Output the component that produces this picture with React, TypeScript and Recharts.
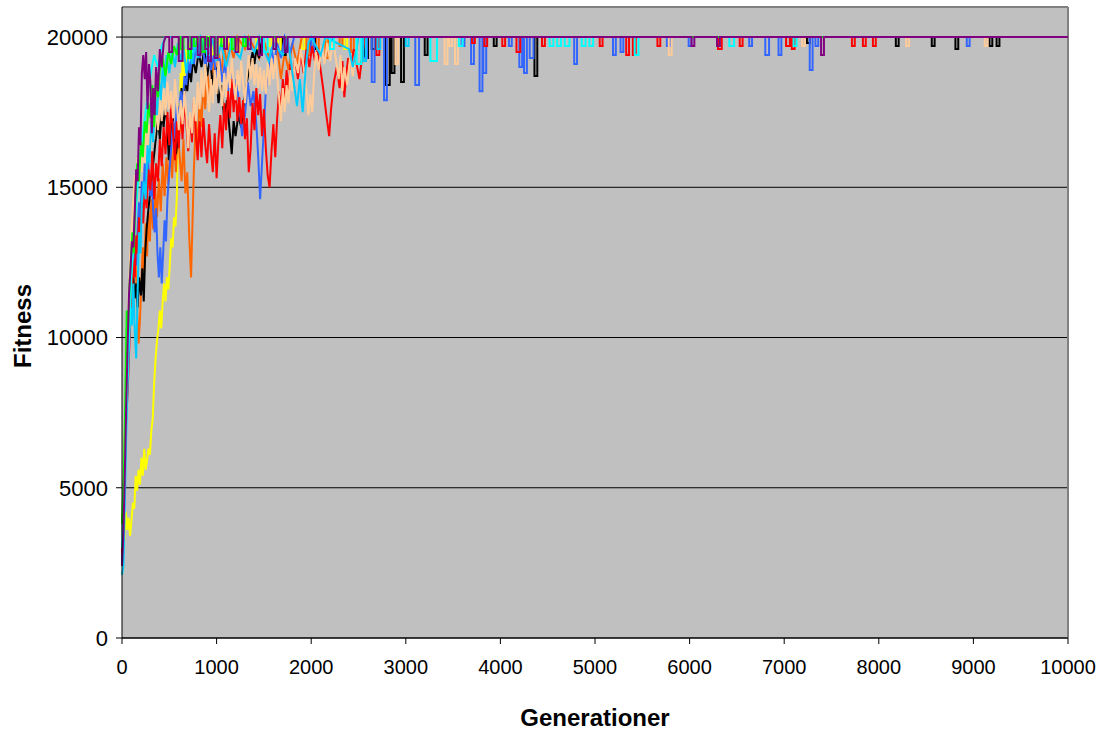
import { LineChart, Line, XAxis, YAxis, CartesianGrid, ReferenceLine } from 'recharts';

const TOP = 20000;
const xTicks = [0, 1000, 2000, 3000, 4000, 5000, 6000, 7000, 8000, 9000, 10000];
const yTicks = [0, 5000, 10000, 15000, 20000];

// [generation, fitness] while climbing, then short drops [start, end, low] once a run sits at 20000
const yellowRun = [[0,2700],[10,3000],[25,3300],[40,4200],[55,3600],[70,4000],[85,3400],[100,3900],[115,4500],[130,4300],[145,5400],[160,4900],[175,5600],[190,5100],[205,6000],[220,5400],[235,6300],[250,5600],[265,5900],[280,6300],[295,6100],[310,6900],[325,7300],[340,8500],[355,9300],[370,9900],[385,10300],[400,10900],[415,10300],[430,11200],[445,11800],[460,11200],[475,12000],[490,11600],[505,12400],[520,13300],[535,13000],[550,14000],[565,13700],[580,14700],[590,16500],[600,17800],[610,16800],[620,18800],[630,17600],[640,19300],[655,18500],[670,19600],[690,19000],[710,19800],[730,19300],[750,20000]];
const yellowDips = [[800,830,19600],[880,910,19300],[950,980,19400],[1040,1070,19700],[1120,1150,19600],[1210,1240,19500],[1300,1330,19700],[1420,1450,19600],[1550,1580,19700],[1650,1680,19500],[1900,1930,19600],[2150,2180,19700],[2350,2380,19600],[6300,6320,19800]];

const orangeRun = [[0,3800],[12,4300],[25,6000],[40,8000],[55,9700],[70,10500],[85,11800],[100,12800],[115,11500],[130,13200],[145,12400],[160,11000],[175,9800],[190,10600],[205,11900],[220,13000],[235,12200],[250,13800],[265,12700],[280,14200],[295,13200],[310,14600],[330,13600],[350,15000],[370,14000],[390,15300],[410,14200],[430,15800],[450,14700],[470,16000],[490,15100],[510,16400],[530,15300],[550,16700],[570,15500],[590,17000],[610,16000],[630,15200],[650,16600],[670,14800],[690,15500],[710,13400],[730,12000],[745,13800],[760,15600],[780,17200],[800,16300],[820,18000],[840,17000],[860,18500],[880,17600],[900,18900],[930,18000],[960,19200],[990,18400],[1020,19500],[1050,18800],[1080,19700],[1110,19100],[1140,19800],[1180,19300],[1220,20000],[1300,19600],[1340,20000],[1450,19300],[1490,20000],[1600,18800],[1640,19700],[1680,18600],[1720,19500],[1760,18900],[1800,19800],[1850,19100],[1900,20000]];
const orangeDips = [[1950,1980,19400],[2050,2080,19600],[2150,2180,19300],[2300,2330,19700],[2420,2450,19500]];

const blackRun = [[0,3000],[15,4500],[30,6500],[45,8300],[60,9400],[75,10300],[90,10900],[105,11600],[120,12000],[135,11300],[150,11800],[165,11000],[180,12000],[200,11400],[215,12300],[230,11200],[245,12800],[260,13600],[280,14300],[300,14900],[320,15500],[340,16100],[360,16700],[380,17300],[400,16600],[420,17500],[440,17000],[460,17800],[480,17000],[495,15900],[510,16500],[530,17600],[550,16800],[570,16100],[590,16600],[610,17400],[630,18300],[650,17600],[670,18700],[690,18200],[710,19000],[730,18500],[750,19300],[780,18800],[810,19500],[840,19000],[870,19600],[900,18700],[930,19300],[960,18400],[990,19000],[1020,17800],[1050,18400],[1080,17300],[1110,17900],[1140,16800],[1160,16100],[1180,17200],[1200,16700],[1230,17400],[1260,17000],[1290,17900],[1320,18500],[1350,19000],[1380,19500],[1400,19100],[1420,19600],[1450,19300],[1480,20000]];
const blackDips = [[1700,1730,19400],[2000,2040,19600],[2560,2600,19300],[2640,2680,19600],[2790,2830,18400],[2850,2880,18800],[2950,2980,18500],[3200,3230,19400],[3930,3960,19700],[4360,4390,18700],[7240,7270,19800],[8180,8210,19700],[8560,8590,19700],[8810,8840,19600],[9170,9200,19700],[9245,9275,19700]];

const blueRun = [[0,2500],[15,4000],[30,6500],[45,8800],[60,10200],[75,11500],[90,12300],[105,13000],[120,12100],[135,13200],[150,12400],[165,13600],[180,14500],[195,14000],[210,15200],[225,14600],[240,15800],[255,15000],[270,16200],[285,15400],[300,14700],[315,15200],[330,14200],[345,13500],[360,14300],[375,12800],[390,12000],[405,13000],[420,11800],[435,12800],[450,13900],[465,13200],[480,14600],[500,15500],[520,16300],[540,17200],[560,16600],[580,17800],[600,17300],[620,18200],[640,17700],[660,18700],[680,18400],[700,19200],[720,18800],[740,19600],[760,19100],[790,19900],[820,19300],[850,19800],[880,19000],[910,19600],[940,18900],[970,19400],[1000,18600],[1030,19300],[1060,18500],[1090,19200],[1120,18200],[1150,18800],[1180,18000],[1210,18600],[1240,17700],[1270,16700],[1300,17400],[1330,18500],[1360,17700],[1390,18200],[1420,17100],[1440,16000],[1460,14600],[1480,15800],[1500,17000],[1520,18200],[1550,19000],[1580,19600],[1610,19100],[1640,19800],[1680,19300],[1720,20000],[1780,19500],[1820,20000]];
const blueDips = [[2000,2030,19500],[2200,2230,19600],[2550,2590,19300],[2640,2670,18500],[2770,2800,17900],[3100,3140,18400],[3590,3620,19700],[3690,3720,19100],[3780,3810,18200],[3820,3850,18800],[4090,4120,19700],[4200,4230,19000],[4250,4280,18800],[4310,4350,19300],[4780,4810,19100],[5190,5220,19400],[5270,5300,19500],[5760,5790,19700],[5990,6020,19700],[6630,6660,19700],[6800,6840,19400],[6940,6970,19400],[7270,7300,18900],[7330,7360,19700],[8930,8960,19700]];

const redRun = [[0,2800],[15,4200],[30,5800],[45,7400],[60,8200],[75,9500],[90,10800],[105,11500],[120,12600],[135,12000],[150,13400],[165,12800],[180,14000],[195,13300],[210,14600],[225,13800],[240,15000],[260,14300],[280,15600],[300,14900],[320,16200],[340,14600],[360,15800],[380,15200],[400,16600],[420,15700],[440,17000],[460,16100],[480,17500],[500,16400],[520,17800],[540,16800],[560,15900],[580,17200],[600,16300],[620,17700],[640,16600],[660,18000],[680,17100],[700,16200],[720,17400],[740,16500],[760,17900],[780,16800],[800,15900],[820,17200],[840,16000],[860,17300],[880,16400],[900,15800],[920,17100],[940,16200],[960,15500],[980,16800],[1000,15300],[1020,16600],[1040,17400],[1060,16300],[1080,17800],[1100,16900],[1120,18200],[1140,17300],[1160,18600],[1180,17500],[1200,18400],[1220,17200],[1240,18000],[1260,17100],[1280,17900],[1300,16600],[1320,17300],[1340,15500],[1360,16300],[1380,17800],[1400,16900],[1420,18300],[1440,17400],[1460,18100],[1480,16700],[1500,17600],[1520,16300],[1540,15400],[1560,15000],[1580,16200],[1600,17100],[1620,16000],[1640,17300],[1660,18200],[1680,17500],[1700,18600],[1720,17800],[1740,18900],[1760,18100],[1780,19100],[1800,18300],[1830,19300],[1860,18600],[1890,19500],[1920,18800],[1950,19600],[1980,19000],[2010,19700],[2040,19200],[2070,19600],[2100,18900],[2130,18200],[2160,17400],[2190,16700],[2210,17600],[2240,18500],[2270,19000],[2300,18300],[2330,19200],[2350,18000],[2370,18700],[2390,19300],[2420,19000],[2450,19600],[2480,19100],[2510,18600],[2540,19400],[2570,20000]];
const redDips = [[2690,2720,19400],[3700,3730,19800],[3830,3860,19700],[4020,4050,19700],[4170,4210,19500],[4440,4470,19700],[5050,5080,19700],[5330,5360,19400],[5400,5430,19400],[5660,5690,19700],[6300,6340,19600],[6530,6560,19700],[7020,7060,19700],[7080,7110,19600],[7716,7746,19700],[7832,7862,19700],[7938,7968,19700]];

const peachRun = [[0,3200],[15,5000],[30,7200],[45,9000],[60,10500],[75,11800],[90,12900],[105,13800],[120,14600],[135,15400],[150,15000],[165,16000],[180,15200],[195,16300],[210,15500],[225,16600],[240,15800],[255,16900],[270,16000],[285,17100],[300,16200],[320,17400],[340,16600],[360,17700],[380,16900],[400,18000],[420,17200],[440,18300],[460,17400],[480,18500],[500,17600],[520,18200],[540,17300],[560,18600],[580,17800],[600,16900],[620,17900],[640,17100],[660,18200],[680,17400],[700,16300],[720,17500],[740,16800],[760,18000],[780,17200],[800,18500],[820,17600],[840,18900],[860,18000],[880,19100],[900,18300],[920,17500],[940,18600],[960,17800],[980,18900],[1000,18100],[1020,19200],[1040,18400],[1060,17700],[1080,18800],[1100,18000],[1120,19000],[1140,18300],[1160,19300],[1180,18500],[1200,17900],[1220,18900],[1240,18200],[1260,19200],[1280,18500],[1300,17800],[1320,18700],[1340,19400],[1360,18600],[1380,19300],[1400,18400],[1420,19100],[1440,18300],[1460,19000],[1480,18200],[1500,18900],[1520,18100],[1540,19200],[1560,18400],[1580,19300],[1600,18600],[1620,19400],[1640,18700],[1660,18000],[1680,17200],[1700,18300],[1720,17500],[1740,18400],[1760,17800],[1780,18900],[1800,18200],[1830,19300],[1860,18800],[1890,19600],[1920,19000],[1950,18200],[1970,17400],[1990,18100],[2010,17500],[2030,18700],[2050,19500],[2080,18900],[2110,19700],[2140,19100],[2170,19800],[2200,19200],[2230,19900],[2260,19300],[2290,18600],[2310,19400],[2330,18200],[2350,19000],[2380,18400],[2410,19300],[2440,18700],[2470,19500],[2500,20000]];
const peachDips = [[2890,2920,19100],[3410,3440,19100],[3460,3490,19700],[3520,3550,19100],[5780,5810,19400],[7190,7220,19700],[8290,8320,19700],[9120,9150,19700]];

const skyRun = [[0,2100],[15,2400],[30,4500],[45,6800],[60,8500],[75,9800],[90,11000],[105,10400],[120,11800],[135,10200],[150,9300],[165,11500],[180,13500],[195,12800],[210,14500],[230,15200],[250,14600],[270,16400],[290,15800],[310,17200],[330,16500],[350,18000],[370,17400],[390,18600],[410,17900],[430,19000],[450,18300],[470,19400],[500,18800],[530,19600],[560,19000],[590,19800],[620,19200],[650,19700],[680,18800],[710,19600],[740,19100],[770,19800],[800,19300],[830,20000],[900,19500],[950,20000],[1000,19200],[1050,19800],[1100,19000],[1150,19700],[1250,19300],[1300,20000],[1400,19500],[1450,20000],[1550,19200],[1600,19800],[1700,19400],[1750,20000],[1850,17700],[1880,18600],[1910,17500],[1940,18900],[1970,19800],[2000,20000],[2100,19400],[2150,20000],[2400,19600],[2440,19000],[2480,19600],[2500,20000]];
const skyDips = [[2550,2580,19200],[2700,2730,19600],[3000,3030,19700]];

const aquaRun = [[0,3000],[20,4800],[40,7000],[60,9200],[80,10500],[100,12000],[130,13500],[160,14800],[190,16000],[220,16800],[250,17500],[280,18300],[310,18900],[340,19400],[380,19000],[420,19700],[460,20000]];
const aquaDips = [[700,740,19500],[900,940,19400],[1150,1190,19600],[1500,1540,19500],[2200,2240,19600],[2480,2530,19100],[3260,3330,19200],[3560,3600,19700],[4520,4560,19700],[4600,4640,19700],[4680,4730,19700],[4860,4900,19700],[4940,4980,19700],[5420,5460,19400],[6420,6470,19700],[7100,7130,19700]];

const greenRun = [[0,3800],[20,5500],[35,8000],[50,10900],[65,10200],[80,11800],[95,12600],[110,13500],[125,12800],[140,14500],[160,15800],[180,15200],[200,16500],[220,16000],[240,17200],[260,16800],[280,17800],[300,17300],[320,18400],[340,17000],[360,18600],[380,18000],[400,18900],[430,19300],[460,18700],[490,19500],[520,19100],[550,19700],[580,19400],[610,20000]];
const greenDips = [[620,650,19600],[700,730,19300],[760,790,19700],[840,870,19500],[900,930,19700],[980,1010,19400],[1050,1080,19700],[1160,1190,19600],[1280,1310,19700]];

const purpleRun = [[0,2400],[15,3500],[30,5500],[45,7800],[60,9800],[75,11500],[90,12300],[105,13200],[120,13000],[135,14200],[150,15600],[165,15200],[180,17000],[195,16400],[210,18800],[225,19400],[240,18600],[255,19500],[270,17600],[285,19100],[300,18500],[315,16800],[330,18300],[345,17400],[360,19000],[380,18200],[400,19600],[420,19000],[440,19800],[460,20000]];
const purpleDips = [[500,530,19500],[600,640,19200],[700,735,19600],[800,830,19400],[880,910,19600],[910,940,19200],[980,1010,19300],[1080,1110,19600],[1200,1230,19500],[1330,1360,19600],[1450,1480,19400],[1600,1630,19600],[1720,1750,19500],[6020,6050,19700],[6290,6320,19700],[7390,7420,19400]];

const runs = [
  { name: 'yellow', color: '#FFFF00', run: yellowRun, dips: yellowDips },
  { name: 'orange', color: '#FF6600', run: orangeRun, dips: orangeDips },
  { name: 'black', color: '#000000', run: blackRun, dips: blackDips },
  { name: 'blue', color: '#3366FF', run: blueRun, dips: blueDips },
  { name: 'red', color: '#FF0000', run: redRun, dips: redDips },
  { name: 'peach', color: '#FFCC99', run: peachRun, dips: peachDips },
  { name: 'sky', color: '#00CCFF', run: skyRun, dips: skyDips },
  { name: 'aqua', color: '#00FFFF', run: aquaRun, dips: aquaDips },
  { name: 'green', color: '#00FF00', run: greenRun, dips: greenDips },
  { name: 'purple', color: '#800080', run: purpleRun, dips: purpleDips },
];

function toPoints(run: number[][], dips: number[][]) {
  const pts = run.map(([x, y]) => ({ x, y }));
  dips.forEach(([s, e, low]) => {
    pts.push({ x: s, y: TOP }, { x: s, y: low }, { x: e, y: low }, { x: e, y: TOP });
  });
  pts.push({ x: 10000, y: TOP });
  return pts;
}

const tickFont = { fontFamily: '"Liberation Sans", Arial, sans-serif', fill: '#000' };

export default function App() {
  return (
    <div style={{ position: 'absolute', left: 0, top: 0, width: 1111, height: 733, background: '#fff' }}>
      <LineChart width={1111} height={733} margin={{ top: 7, right: 43, bottom: 0, left: 0 }}>
        <CartesianGrid vertical={false} stroke="#000" fill="#C0C0C0" fillOpacity={1} />
        <XAxis
          type="number"
          dataKey="x"
          domain={[0, 10000]}
          ticks={xTicks}
          height={95}
          tickSize={6}
          tickMargin={16}
          stroke="#000"
          tick={{ ...tickFont, fontSize: 20 }}
        />
        <YAxis
          type="number"
          dataKey="y"
          domain={[0, 21000]}
          ticks={yTicks}
          width={122}
          tickSize={6}
          tickMargin={8}
          stroke="#000"
          tick={{ ...tickFont, fontSize: 22 }}
        />
        <ReferenceLine y={21000} stroke="#808080" strokeWidth={2} />
        <ReferenceLine x={10000} stroke="#808080" strokeWidth={2} />
        {runs.map((r) => (
          <Line
            key={r.name}
            data={toPoints(r.run, r.dips)}
            dataKey="y"
            type="linear"
            stroke={r.color}
            strokeWidth={2}
            dot={false}
            isAnimationActive={false}
          />
        ))}
      </LineChart>
      <div
        style={{
          position: 'absolute', left: 23, top: 326, transform: 'translate(-50%, -50%) rotate(-90deg)',
          fontFamily: '"Liberation Sans", Arial, sans-serif', fontWeight: 'bold', fontSize: 24, lineHeight: '26px', whiteSpace: 'nowrap',
        }}
      >
        Fitness
      </div>
      <div
        style={{
          position: 'absolute', left: 0, width: 1190, top: 705, textAlign: 'center',
          fontFamily: '"Liberation Sans", Arial, sans-serif', fontWeight: 'bold', fontSize: 24, lineHeight: '26px',
        }}
      >
        Generationer
      </div>
    </div>
  );
}
